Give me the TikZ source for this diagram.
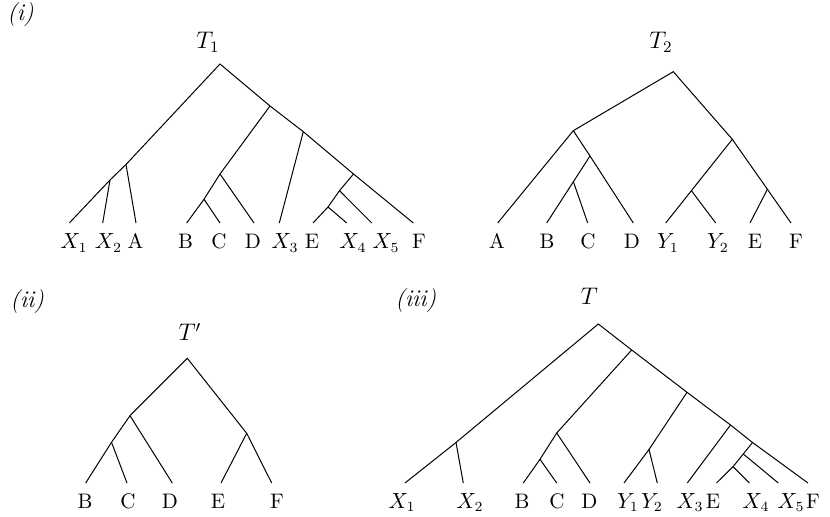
\documentclass[tikz,border=0pt]{standalone}
\tikzset{
  leaf/.style={anchor=base, inner sep=0pt, font=\fontsize{10.5}{12}\selectfont},
  title/.style={anchor=base, inner sep=0pt, font=\large},
  tag/.style={anchor=base west, inner sep=0pt, font=\large\itshape},
  edge/.style={line width=0.5pt}
}
\begin{document}
\begin{tikzpicture}[x=0.5pt, y=-0.5pt]
\useasboundingbox (0,0) rectangle (830,517);
\def\ya{223}   % leaf ends, top row
\def\yb{483}   % leaf ends, bottom row
\def\la{249}   % label baseline, top row
\def\lb{508.5} % label baseline, bottom row

% ---- (i) T_1 ----
\node[tag] (tag1) at (7,21) {(i)};
\node[title] (T1) at (208,48.5) {$T_1$};
\coordinate (r1) at (220,64);
\coordinate (a1) at (270,106);
\coordinate (b1) at (126,164.5);
\coordinate (c1) at (110,180);
\coordinate (d1) at (220,174);
\coordinate (e1) at (204,199.3);
\coordinate (f1) at (303.3,131.7);
\coordinate (g1) at (353.5,174);
\coordinate (h1) at (339.5,190.7);
\coordinate (k1) at (328,207);
\coordinate (t1X1) at (69.3,\ya);  \node[leaf] (t1X1l) at (74,\la) {$X_1$};
\coordinate (t1X2) at (102.7,\ya); \node[leaf] (t1X2l) at (108.5,\la) {$X_2$};
\coordinate (t1A) at (136,\ya);    \node[leaf] (t1Al) at (135.5,\la) {A};
\coordinate (t1B) at (186.7,\ya);  \node[leaf] (t1Bl) at (185.5,\la) {B};
\coordinate (t1C) at (220,\ya);    \node[leaf] (t1Cl) at (219,\la) {C};
\coordinate (t1D) at (254,\ya);    \node[leaf] (t1Dl) at (253,\la) {D};
\coordinate (t1X3) at (279.3,\ya); \node[leaf] (t1X3l) at (285,\la) {$X_3$};
\coordinate (t1E) at (313,\ya);    \node[leaf] (t1El) at (312,\la) {E};
\coordinate (t1X4) at (346.7,\ya); \node[leaf] (t1X4l) at (353,\la) {$X_4$};
\coordinate (t1X5) at (371.7,\ya); \node[leaf] (t1X5l) at (386,\la) {$X_5$};
\coordinate (t1F) at (413.3,\ya);  \node[leaf] (t1Fl) at (419,\la) {F};
\draw[edge] (t1X1) -- (c1) -- (b1) -- (r1) -- (a1) -- (f1) -- (g1) -- (t1F);
\draw[edge] (c1) -- (t1X2);
\draw[edge] (b1) -- (t1A);
\draw[edge] (a1) -- (d1) -- (e1) -- (t1B);
\draw[edge] (e1) -- (t1C);
\draw[edge] (d1) -- (t1D);
\draw[edge] (f1) -- (t1X3);
\draw[edge] (g1) -- (h1) -- (k1) -- (t1E);
\draw[edge] (h1) -- (t1X5);
\draw[edge] (k1) -- (t1X4);

% ---- T_2 ----
\node[title] (T2) at (661,48.5) {$T_2$};
\coordinate (r2) at (673.3,71.7);
\coordinate (p2) at (573.3,130.7);
\coordinate (q2) at (732.3,139.3);
\coordinate (s2) at (590,156);
\coordinate (u2) at (573.4,181.7);
\coordinate (v2) at (691.4,190.7);
\coordinate (w2) at (767.4,189.3);
\coordinate (t2A) at (497.7,\ya);  \node[leaf] (t2Al) at (497,\la) {A};
\coordinate (t2B) at (546.7,\ya);  \node[leaf] (t2Bl) at (547,\la) {B};
\coordinate (t2C) at (587.7,\ya);  \node[leaf] (t2Cl) at (588,\la) {C};
\coordinate (t2D) at (633.3,\ya);  \node[leaf] (t2Dl) at (632,\la) {D};
\coordinate (t2Y1) at (665.7,\ya); \node[leaf] (t2Y1l) at (668,\la) {$Y_1$};
\coordinate (t2Y2) at (715.7,\ya); \node[leaf] (t2Y2l) at (718,\la) {$Y_2$};
\coordinate (t2E) at (750,\ya);    \node[leaf] (t2El) at (755,\la) {E};
\coordinate (t2F) at (791,\ya);    \node[leaf] (t2Fl) at (796,\la) {F};
\draw[edge] (t2A) -- (p2) -- (r2) -- (q2) -- (w2) -- (t2F);
\draw[edge] (p2) -- (s2) -- (t2D);
\draw[edge] (s2) -- (u2) -- (t2B);
\draw[edge] (u2) -- (t2C);
\draw[edge] (q2) -- (v2) -- (t2Y1);
\draw[edge] (v2) -- (t2Y2);
\draw[edge] (w2) -- (t2E);

% ---- (ii) T' ----
\node[tag] (tag2) at (10,308) {(ii)};
\node[title] (Tp) at (190,341) {$T'$};
\coordinate (r3) at (187.3,358.3);
\coordinate (m3) at (130,415.7);
\coordinate (n3) at (246.7,433.3);
\coordinate (o3) at (111.5,442.3);
\coordinate (t3B) at (85.7,\yb);  \node[leaf] (t3Bl) at (85,\lb) {B};
\coordinate (t3C) at (127,\yb);   \node[leaf] (t3Cl) at (128,\lb) {C};
\coordinate (t3D) at (172.3,\yb); \node[leaf] (t3Dl) at (170,\lb) {D};
\coordinate (t3E) at (221,\yb);   \node[leaf] (t3El) at (218,\lb) {E};
\coordinate (t3F) at (271.7,\yb); \node[leaf] (t3Fl) at (277,\lb) {F};
\draw[edge] (t3B) -- (o3) -- (m3) -- (r3) -- (n3) -- (t3F);
\draw[edge] (o3) -- (t3C);
\draw[edge] (m3) -- (t3D);
\draw[edge] (n3) -- (t3E);

% ---- (iii) T ----
\node[tag] (tag3) at (395,307) {(iii)};
\node[title] (T) at (589.5,305) {$T$};
\coordinate (r4) at (598.3,324);
\coordinate (x4) at (456,442.5);
\coordinate (a4) at (631.7,350);
\coordinate (b4) at (556.7,433);
\coordinate (c4) at (540,459.3);
\coordinate (d4) at (687,392.3);
\coordinate (e4) at (649,449.5);
\coordinate (f4) at (730.5,425);
\coordinate (g4) at (752.5,442.5);
\coordinate (h4) at (743.3,454);
\coordinate (k4) at (733,466.7);
\coordinate (t4X1) at (405,\yb);   \node[leaf] (t4X1l) at (402,\lb) {$X_1$};
\coordinate (t4X2) at (463.3,\yb); \node[leaf] (t4X2l) at (470,\lb) {$X_2$};
\coordinate (t4B) at (523.3,\yb);  \node[leaf] (t4Bl) at (522,\lb) {B};
\coordinate (t4C) at (556.7,\yb);  \node[leaf] (t4Cl) at (557,\lb) {C};
\coordinate (t4D) at (590,\yb);    \node[leaf] (t4Dl) at (589.5,\lb) {D};
\coordinate (t4Y1) at (624,\yb);   \node[leaf] (t4Y1l) at (628,\lb) {$Y_1$};
\coordinate (t4Y2) at (657.3,\yb); \node[leaf] (t4Y2l) at (652,\lb) {$Y_2$};
\coordinate (t4X3) at (687.3,\yb); \node[leaf] (t4X3l) at (690,\lb) {$X_3$};
\coordinate (t4E) at (716.5,\yb);  \node[leaf] (t4El) at (713,\lb) {E};
\coordinate (t4X4) at (749.3,\yb); \node[leaf] (t4X4l) at (756,\lb) {$X_4$};
\coordinate (t4X5) at (778.3,\yb); \node[leaf] (t4X5l) at (791,\lb) {$X_5$};
\coordinate (t4F) at (808,\yb);    \node[leaf] (t4Fl) at (813,\lb) {F};
\draw[edge] (t4X1) -- (x4) -- (r4) -- (a4) -- (d4) -- (f4) -- (g4) -- (t4F);
\draw[edge] (x4) -- (t4X2);
\draw[edge] (a4) -- (b4) -- (c4) -- (t4B);
\draw[edge] (c4) -- (t4C);
\draw[edge] (b4) -- (t4D);
\draw[edge] (d4) -- (e4) -- (t4Y1);
\draw[edge] (e4) -- (t4Y2);
\draw[edge] (f4) -- (t4X3);
\draw[edge] (g4) -- (h4) -- (k4) -- (t4E);
\draw[edge] (h4) -- (t4X5);
\draw[edge] (k4) -- (t4X4);
\end{tikzpicture}
\end{document}
